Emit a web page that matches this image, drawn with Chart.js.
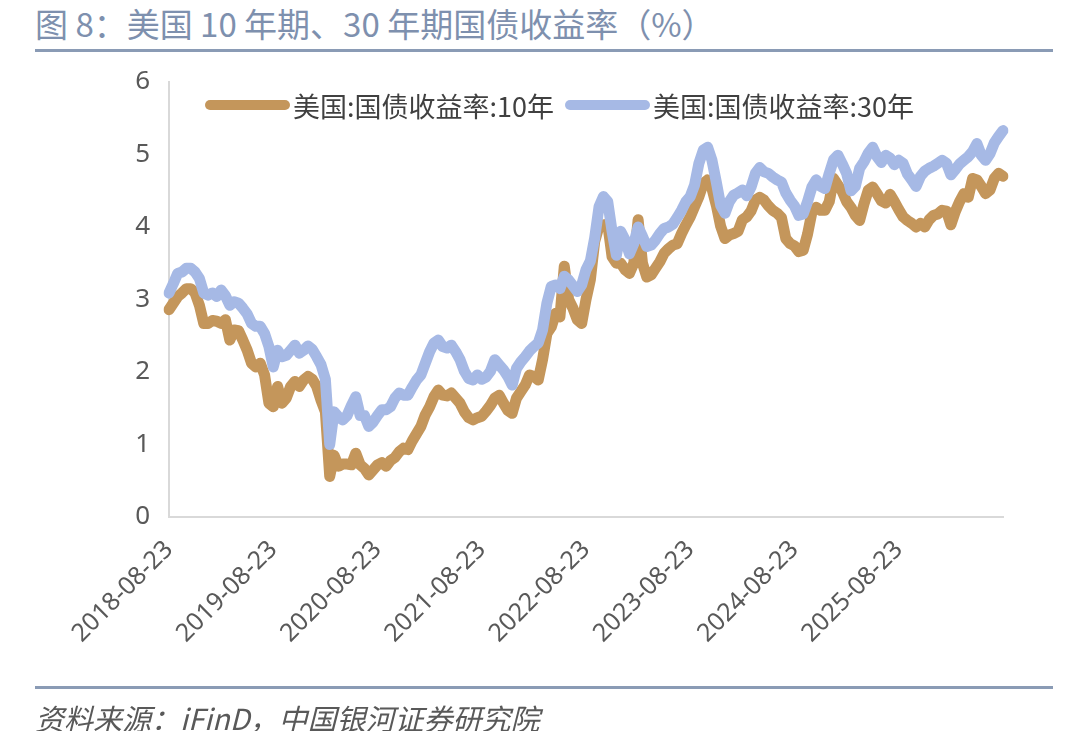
<!DOCTYPE html>
<html>
<head>
<meta charset="utf-8">
<script src="https://cdn.jsdelivr.net/npm/chart.js@4.4.1/dist/chart.umd.min.js"></script>
<style>
    body { margin: 0; width: 1080px; height: 731px; background: #fff; position: relative; overflow: hidden; font-family: 'Noto Sans CJK SC', sans-serif; }
    #chart { position: absolute; left: 0; top: 0; }
    .title { position: absolute; left: 35px; top: -1px; font-size: 33px; color: #7e90ae; white-space: nowrap; }
    .rule { position: absolute; left: 35px; width: 1018px; height: 3px; background: #8a9bb5; }
    .source { position: absolute; left: 35px; top: 696px; font-size: 29px; font-style: italic; color: #595959; white-space: nowrap; }
    .legend-item { position: absolute; top: 88px; height: 34px; display: flex; align-items: center; font-size: 27px; color: #404040; white-space: nowrap; }
    .legend-line { display: inline-block; width: 85px; height: 10px; border-radius: 5px; margin-right: 3px; }
</style>
</head>
<body>
<div class="title">图 8：美国 10 年期、30 年期国债收益率（%）</div>
<div class="rule" style="top:49px"></div>
<canvas id="chart" width="1080" height="731"></canvas>
<div class="legend-item" style="left:205px"><span class="legend-line" style="background:#c4965b"></span>美国:国债收益率:10年</div>
<div class="legend-item" style="left:565px"><span class="legend-line" style="background:#a6b9e5"></span>美国:国债收益率:30年</div>
<div class="rule" style="top:686px"></div>
<div class="source">资料来源：iFinD，中国银河证券研究院</div>

<script>
// Semi-monthly samples, starting 2018-08-23
const yield10y = [
    2.86, 2.95, 3.04, 3.09, 3.15, 3.15, 3.09, 2.92, 2.67, 2.67,
    2.71, 2.70, 2.67, 2.72, 2.44, 2.58, 2.57, 2.44, 2.30, 2.12,
    2.07, 2.12, 1.96, 1.57, 1.52, 1.80, 1.57, 1.64, 1.80, 1.87,
    1.80, 1.89, 1.94, 1.90, 1.80, 1.61, 1.45, 0.56, 0.85, 0.70,
    0.73, 0.73, 0.72, 0.88, 0.72, 0.67, 0.58, 0.65, 0.72, 0.75,
    0.70, 0.78, 0.82, 0.90, 0.95, 0.93, 1.05, 1.15, 1.25, 1.41,
    1.52, 1.66, 1.75, 1.68, 1.67, 1.71, 1.64, 1.57, 1.45, 1.37,
    1.34, 1.37, 1.39, 1.46, 1.54, 1.64, 1.68, 1.57, 1.47, 1.43,
    1.64, 1.73, 1.82, 1.96, 1.94, 1.89, 2.17, 2.53, 2.62, 2.81,
    2.76, 3.46, 3.00, 2.88, 2.72, 2.67, 3.00, 3.27, 3.80, 4.01,
    4.03, 4.04, 3.59, 3.50, 3.50, 3.41, 3.36, 3.50, 4.10, 3.50,
    3.31, 3.34, 3.43, 3.52, 3.64, 3.70, 3.75, 3.77, 3.91, 4.03,
    4.14, 4.28, 4.42, 4.60, 4.65, 4.53, 4.30, 4.01, 3.84, 3.89,
    3.91, 3.94, 4.10, 4.14, 4.22, 4.37, 4.41, 4.37, 4.29, 4.23,
    4.19, 4.13, 3.84, 3.77, 3.74, 3.66, 3.68, 3.90, 4.20, 4.27,
    4.23, 4.23, 4.35, 4.67, 4.58, 4.49, 4.35, 4.27, 4.16, 4.09,
    4.32, 4.51, 4.55, 4.46, 4.36, 4.33, 4.45, 4.35, 4.24, 4.14,
    4.09, 4.05, 4.00, 4.05, 4.00, 4.10, 4.16, 4.18, 4.23, 4.22,
    4.03, 4.21, 4.35, 4.46, 4.41, 4.67, 4.65, 4.56, 4.46, 4.51,
    4.67, 4.74, 4.70
];

const yield30y = [
    3.09, 3.22, 3.36, 3.38, 3.43, 3.43, 3.38, 3.29, 3.09, 3.06,
    3.09, 3.04, 3.13, 3.05, 2.92, 2.97, 2.95, 2.88, 2.80, 2.67,
    2.63, 2.63, 2.53, 2.35, 2.07, 2.30, 2.21, 2.23, 2.30, 2.37,
    2.26, 2.30, 2.36, 2.31, 2.21, 2.10, 1.90, 1.00, 1.45, 1.38,
    1.34, 1.40, 1.54, 1.66, 1.40, 1.40, 1.25, 1.31, 1.40, 1.48,
    1.48, 1.52, 1.64, 1.71, 1.68, 1.68, 1.79, 1.89, 1.96, 2.12,
    2.28, 2.40, 2.44, 2.35, 2.33, 2.37, 2.28, 2.17, 2.01, 1.91,
    1.89, 1.96, 1.90, 1.93, 2.01, 2.17, 2.10, 2.03, 1.94, 1.82,
    2.05, 2.14, 2.21, 2.29, 2.35, 2.40, 2.58, 2.95, 3.18, 3.20,
    3.15, 3.32, 3.27, 3.19, 3.11, 3.20, 3.41, 3.53, 3.85, 4.28,
    4.42, 4.35, 3.94, 3.61, 3.94, 3.82, 3.63, 3.77, 4.00, 3.87,
    3.73, 3.75, 3.82, 3.91, 3.98, 4.00, 4.04, 4.13, 4.23, 4.35,
    4.42, 4.58, 4.88, 5.06, 5.10, 4.92, 4.62, 4.30, 4.19, 4.35,
    4.44, 4.47, 4.51, 4.43, 4.55, 4.74, 4.82, 4.76, 4.74, 4.69,
    4.65, 4.62, 4.47, 4.37, 4.29, 4.16, 4.18, 4.35, 4.55, 4.65,
    4.56, 4.53, 4.74, 4.93, 4.99, 4.87, 4.74, 4.50, 4.56, 4.81,
    4.90, 5.02, 5.10, 4.97, 4.89, 4.99, 4.95, 4.86, 4.92, 4.88,
    4.73, 4.65, 4.56, 4.70, 4.77, 4.81, 4.84, 4.88, 4.92, 4.88,
    4.72, 4.79, 4.87, 4.92, 4.97, 5.04, 5.15, 4.99, 4.92, 5.01,
    5.16, 5.25, 5.33
];

const xTickLabels = [
    '2018-08-23', '2019-08-23', '2020-08-23', '2021-08-23',
    '2022-08-23', '2023-08-23', '2024-08-23', '2025-08-23'
];

const seriesNames = ['美国:国债收益率:10年', '美国:国债收益率:30年'];

// Category dates: the 23rd and the 8th of each month
const dates = [];
for (let h = 0; h < yield10y.length; h++) {
    const k = Math.ceil(h / 2);
    const mAbs = 7 + k;
    const year = 2018 + Math.floor(mAbs / 12);
    const month = String(mAbs % 12 + 1).padStart(2, '0');
    dates.push(`${year}-${month}-${h % 2 ? '08' : '23'}`);
}

new Chart(document.getElementById('chart'), {
    type: 'line',
    data: {
        labels: dates,
        datasets: [
            {
                label: seriesNames[0],
                data: yield10y,
                borderColor: '#c4965b',
                backgroundColor: '#c4965b',
                borderWidth: 11,
                borderJoinStyle: 'round',
                borderCapStyle: 'round',
                pointRadius: 0,
                tension: 0,
                order: 1
            },
            {
                label: seriesNames[1],
                data: yield30y,
                borderColor: '#a6b9e5',
                backgroundColor: '#a6b9e5',
                borderWidth: 11,
                borderJoinStyle: 'round',
                borderCapStyle: 'round',
                pointRadius: 0,
                tension: 0,
                order: 0
            }
        ]
    },
    options: {
        responsive: false,
        animation: false,
        layout: {
            padding: { left: 0, right: 77, top: 82, bottom: 64 }
        },
        plugins: {
            legend: { display: false },
            tooltip: { enabled: false }
        },
        scales: {
            x: {
                grid: { display: false, drawTicks: false },
                border: { display: true, color: '#d9d9d9', width: 2 },
                ticks: {
                    autoSkip: false,
                    maxRotation: 45,
                    minRotation: 45,
                    padding: 18,
                    color: '#595959',
                    font: { family: "'Noto Sans', sans-serif", size: 25 },
                    callback: function(value) {
                        const lab = this.getLabelForValue(value);
                        return xTickLabels.includes(lab) ? lab : '';
                    }
                },
                afterFit: function(scale) { scale.height = 150; }
            },
            y: {
                min: 0,
                max: 6,
                grid: { display: false, drawTicks: false },
                border: { display: true, color: '#d9d9d9', width: 2 },
                ticks: {
                    stepSize: 1,
                    padding: 19,
                    color: '#595959',
                    font: { family: "'Noto Sans', sans-serif", size: 26 }
                },
                afterFit: function(scale) { scale.width = 169; }
            }
        }
    }
});
</script>
</body>
</html>
